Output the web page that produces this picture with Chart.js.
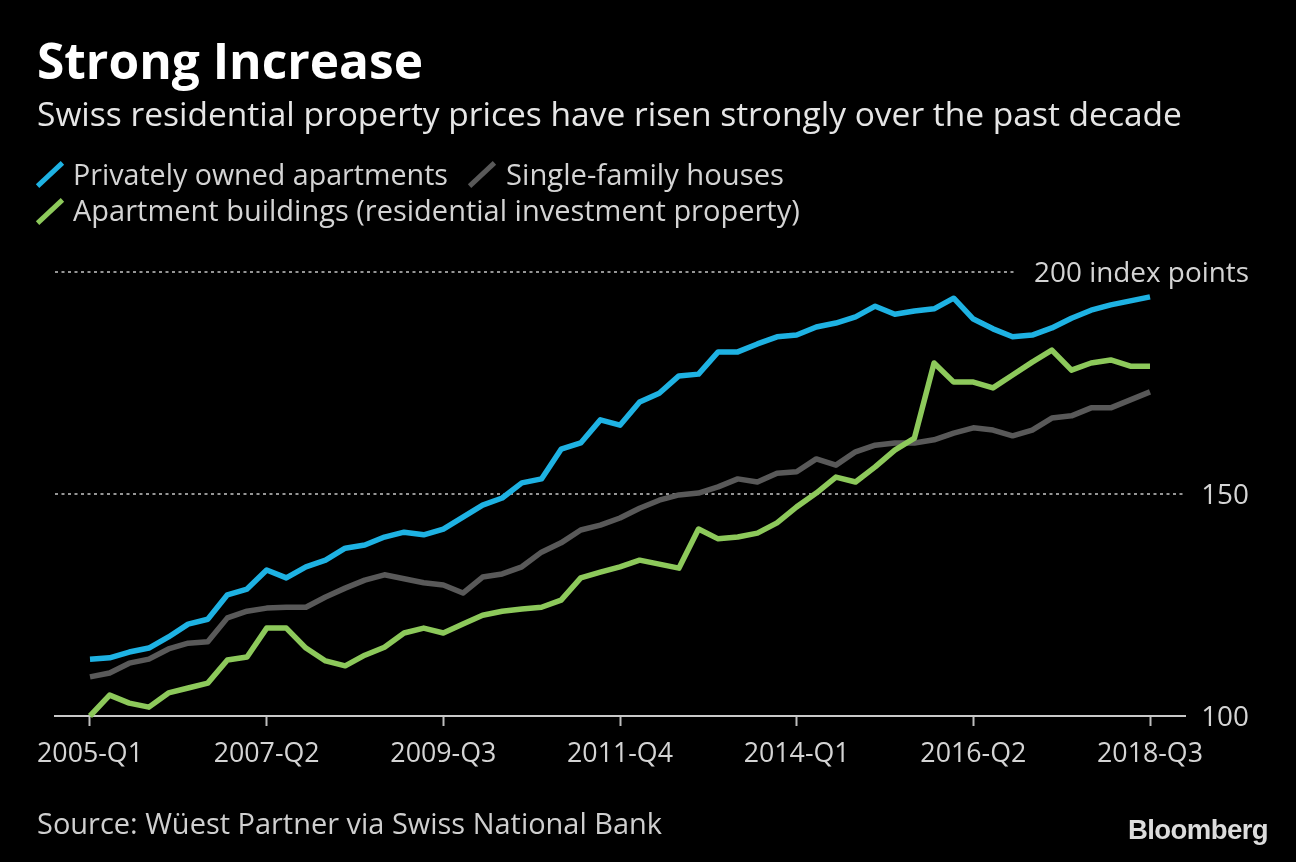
<!DOCTYPE html>
<html><head><meta charset="utf-8">
<script src="https://cdn.jsdelivr.net/npm/chart.js@4.4.0/dist/chart.umd.min.js"></script>
<style>
html,body{margin:0;padding:0;background:#000;width:1296px;height:862px;overflow:hidden;}
#wrap{position:relative;width:1296px;height:862px;background:#000;}
#c{position:absolute;left:0;top:0;}
.t{position:absolute;white-space:nowrap;font-family:"Open Sans",sans-serif;line-height:1.2;left:0;top:0;}
.bl{display:inline-block;width:0;height:0;vertical-align:baseline;}
.sl{position:absolute;width:34px;height:5px;transform-origin:50% 50%;}
</style></head><body>
<div id="wrap">
<canvas id="c" width="1296" height="862"></canvas>
<div class="t" data-x="37" data-b="79" data-w="386" data-fs="44" style="font-weight:700;color:#fff;"><span class="tx">Strong Increase</span><span class="bl"></span></div>
<div class="t" data-x="37" data-b="126" data-w="1145" data-fs="30" style="color:#e6e6e6;"><span class="tx">Swiss residential property prices have risen strongly over the past decade</span><span class="bl"></span></div>
<div class="sl" style="left:33px;top:172px;background:#1eb2e3;transform:rotate(-43deg);"></div>
<div class="t" data-x="73" data-b="185" data-w="375" data-fs="28" style="color:#d4d4d4;"><span class="tx">Privately owned apartments</span><span class="bl"></span></div>
<div class="sl" style="left:465px;top:172px;background:#595959;transform:rotate(-43deg);"></div>
<div class="t" data-x="506" data-b="185" data-w="278" data-fs="28" style="color:#d4d4d4;"><span class="tx">Single-family houses</span><span class="bl"></span></div>
<div class="sl" style="left:33px;top:209px;background:#8dc95b;transform:rotate(-43deg);"></div>
<div class="t" data-x="73" data-b="221" data-w="727" data-fs="28" style="color:#d4d4d4;"><span class="tx">Apartment buildings (residential investment property)</span><span class="bl"></span></div>
<div class="t" data-x="37" data-b="834" data-w="625" data-fs="28" style="color:#cfcfcf;"><span class="tx">Source: Wüest Partner via Swiss National Bank</span><span class="bl"></span></div>
<div class="t" data-x="1128" data-b="839" data-w="140" data-fs="25" style="font-family:'Liberation Sans',Arial,sans-serif;font-weight:700;color:#dcdcdc;letter-spacing:-0.6px;"><span class="tx">Bloomberg</span><span class="bl"></span></div>
</div>
<script>
// ---------- DATA ----------
const quarters = [
 "2005-Q1","2005-Q2","2005-Q3","2005-Q4","2006-Q1","2006-Q2","2006-Q3","2006-Q4",
 "2007-Q1","2007-Q2","2007-Q3","2007-Q4","2008-Q1","2008-Q2","2008-Q3","2008-Q4",
 "2009-Q1","2009-Q2","2009-Q3","2009-Q4","2010-Q1","2010-Q2","2010-Q3","2010-Q4",
 "2011-Q1","2011-Q2","2011-Q3","2011-Q4","2012-Q1","2012-Q2","2012-Q3","2012-Q4",
 "2013-Q1","2013-Q2","2013-Q3","2013-Q4","2014-Q1","2014-Q2","2014-Q3","2014-Q4",
 "2015-Q1","2015-Q2","2015-Q3","2015-Q4","2016-Q1","2016-Q2","2016-Q3","2016-Q4",
 "2017-Q1","2017-Q2","2017-Q3","2017-Q4","2018-Q1","2018-Q2","2018-Q3"];
const xTickLabels = ["2005-Q1","2007-Q2","2009-Q3","2011-Q4","2014-Q1","2016-Q2","2018-Q3"];
const privatelyOwnedApartments = [
 112.8,113.1,114.4,115.3,117.8,120.7,121.8,127.3,128.6,132.9,131.1,133.6,135.1,137.8,138.5,140.3,
 141.4,140.8,142.1,144.8,147.5,149.1,152.5,153.4,160.1,161.5,166.7,165.5,170.7,172.7,176.6,177.0,
 182.0,182.0,183.8,185.4,185.8,187.6,188.5,189.9,192.3,190.5,191.2,191.7,194.1,189.4,187.2,185.4,
 185.8,187.4,189.6,191.4,192.6,193.5,194.4];
const singleFamilyHouses = [
 108.8,109.7,111.9,112.8,115.1,116.4,116.7,122.1,123.6,124.3,124.5,124.5,126.8,128.8,130.6,131.8,
 130.9,130.0,129.5,127.7,131.3,132.0,133.6,136.9,139.0,141.9,143.0,144.6,146.8,148.6,149.8,150.2,
 151.6,153.4,152.7,154.7,155.0,157.9,156.5,159.5,161.0,161.5,161.5,162.2,163.7,164.9,164.4,163.1,
 164.4,167.1,167.6,169.4,169.4,171.2,173.0];
const apartmentBuildings = [
 100.0,104.7,102.9,102.0,105.2,106.3,107.4,112.6,113.3,119.8,119.8,115.3,112.4,111.3,113.7,115.5,
 118.7,119.8,118.7,120.7,122.7,123.6,124.1,124.5,126.1,131.1,132.4,133.6,135.1,134.2,133.3,142.1,
 139.9,140.3,141.2,143.5,147.1,150.2,153.8,152.7,156.1,159.9,162.6,179.5,175.2,175.2,173.9,176.8,
 179.7,182.4,177.9,179.5,180.2,178.8,178.8];
const yGridValues = [150, 200];
const yLabelValues = [100, 150, 200];
const yLabelTexts = ["100", "150", "200 index points"];

// ---------- TEXT LAYOUT ----------
document.querySelectorAll('.t').forEach(el => {
  const tw = +el.dataset.w;
  let fs = +el.dataset.fs;
  el.style.fontSize = fs + 'px';
  const tx = el.querySelector('.tx');
  for (let k = 0; k < 3; k++) {
    const w = tx.getBoundingClientRect().width;
    fs = fs * tw / w;
    el.style.fontSize = fs + 'px';
  }
  el.style.left = el.dataset.x + 'px';
  el.style.top = '0px';
  const b = el.querySelector('.bl').getBoundingClientRect().top - el.getBoundingClientRect().top;
  el.style.top = (+el.dataset.b - b) + 'px';
});

function fitSize(text, weight, family, target) {
  const c = document.createElement('canvas').getContext('2d');
  c.font = weight + ' 100px ' + family;
  return 100 * target / c.measureText(text).width;
}
const tickFs = fitSize("2005-Q1", "400", '"Open Sans"', 106);
const yFs = fitSize("200 index points", "400", '"Open Sans"', 215);

const xTickIdx = xTickLabels.map(l => quarters.indexOf(l));

const axisText = {
  id: 'axisText',
  beforeDatasetsDraw(chart) {
    const {ctx, chartArea, scales: {y}} = chart;
    ctx.save();
    ctx.strokeStyle = '#959595';
    ctx.lineWidth = 2;
    ctx.setLineDash([3, 3.5]);
    yGridValues.forEach(v => {
      const py = Math.round(y.getPixelForValue(v));
      const xEnd = v === 200 ? 1014 : chartArea.right;
      ctx.beginPath();
      ctx.moveTo(chartArea.left, py);
      ctx.lineTo(xEnd, py);
      ctx.stroke();
    });
    ctx.restore();
  },
  afterDraw(chart) {
    const {ctx, scales: {y}} = chart;
    ctx.save();
    ctx.font = '400 ' + yFs + 'px "Open Sans"';
    ctx.fillStyle = '#d4d4d4';
    ctx.textAlign = 'right';
    ctx.textBaseline = 'alphabetic';
    yLabelValues.forEach((v, i) => {
      const py = y.getPixelForValue(v);
      ctx.fillText(yLabelTexts[i], 1249, py + 0.357 * yFs);
    });
    ctx.restore();
  }
};

const mk = arr => arr.map((v, i) => ({x: i, y: v}));

new Chart(document.getElementById('c'), {
  type: 'line',
  data: {
    datasets: [
      {label: 'Apartment buildings (residential investment property)', data: mk(apartmentBuildings), borderColor: '#8dc95b'},
      {label: 'Privately owned apartments', data: mk(privatelyOwnedApartments), borderColor: '#1eb2e3'},
      {label: 'Single-family houses', data: mk(singleFamilyHouses), borderColor: '#595959'}
    ]
  },
  options: {
    responsive: false,
    animation: false,
    layout: {padding: {left: 55, top: 272, right: 0, bottom: 0}},
    elements: {
      line: {borderWidth: 5.5, tension: 0, borderJoinStyle: 'round', borderCapStyle: 'butt', fill: false},
      point: {radius: 0, hoverRadius: 0}
    },
    datasets: {line: {clip: 12}},
    plugins: {legend: {display: false}, tooltip: {enabled: false}, title: {display: false}},
    events: [],
    scales: {
      x: {
        type: 'linear',
        min: -1.783,
        max: 55.783,
        afterFit: s => { s.height = 862 - 716; },
        afterBuildTicks: s => { s.ticks = xTickIdx.map(v => ({value: v})); },
        ticks: {
          autoSkip: false, maxRotation: 0, minRotation: 0,
          color: '#d4d4d4',
          font: {family: '"Open Sans"', size: tickFs},
          padding: 12,
          callback: v => quarters[v]
        },
        grid: {display: true, drawOnChartArea: false, drawTicks: true, tickLength: 10, tickColor: '#bdbdbd', tickWidth: 2, color: 'rgba(0,0,0,0)'},
        border: {display: true, color: '#c8c8c8', width: 2}
      },
      y: {
        type: 'linear',
        position: 'right',
        min: 100,
        max: 200,
        afterFit: s => { s.width = 1296 - 1185; },
        ticks: {display: false},
        grid: {display: false},
        border: {display: false}
      }
    }
  },
  plugins: [axisText]
});
</script>
</body></html>
